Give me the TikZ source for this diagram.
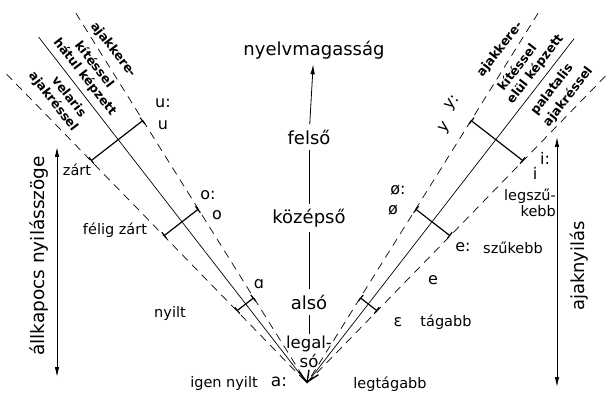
\documentclass[tikz,border=0pt]{standalone}
\usepackage{fontspec}
\setmainfont{DejaVu Sans}
\usetikzlibrary{calc,arrows.meta}
\begin{document}
\begin{tikzpicture}[x=1pt,y=1pt,
  txt/.style={inner sep=0pt, font=\fontsize{14.5}{16}\selectfont},
  snd/.style={inner sep=0pt, font=\fontsize{16}{18}\selectfont},
  big/.style={inner sep=5pt, font=\fontsize{18}{20}\selectfont},
  side/.style={inner sep=0pt, font=\bfseries\fontsize{12.5}{14}\selectfont},
  axisline/.style={line width=0.7pt},
  dashline/.style={line width=0.7pt, dash pattern=on 8pt off 6pt},
  crossbar/.style={line width=1.2pt, {Bar[width=8pt]}-{Bar[width=8pt]}},
  dblarrow/.style={line width=0.9pt, {Latex[length=10pt,width=4.5pt]}-{Latex[length=10pt,width=4.5pt]}},
  uparrow/.style={line width=0.8pt, -{Latex[length=10pt,width=4.5pt]}},
  plainline/.style={line width=0.8pt},
]
\useasboundingbox (0,0) rectangle (608,394);
\coordinate (V) at (307,11);

% the six rays of the fan
\coordinate (Lsol) at ($(V)+(127.8:438)$);
\coordinate (Lin)  at ($(V)+(122:436)$);
\coordinate (Lout) at ($(V)+(134.2:431)$);
\coordinate (Rsol) at ($(V)+(52.2:436)$);
\coordinate (Rin)  at ($(V)+(58:436)$);
\coordinate (Rout) at ($(V)+(45.8:428)$);
\draw[axisline] (V) -- (Lsol);
\draw[axisline] (V) -- (Rsol);
\draw[dashline] (Lin) -- (V);
\draw[dashline] (Lout) -- (V);
\draw[dashline] (Rin) -- (V);
\draw[dashline] (Rout) -- (V);

% cross bars between the dashed rays
\foreach \s/\n in {100/1,204/2,308/3}{
  \coordinate (Li\n) at ($(V)+(127.8:\s)+(37.8:{0.1016*\s})$);
  \coordinate (Lo\n) at ($(V)+(127.8:\s)+(217.8:{0.1122*\s})$);
  \coordinate (Ri\n) at ($(V)+(52.2:\s)+(142.2:{0.1016*\s})$);
  \coordinate (Ro\n) at ($(V)+(52.2:\s)+(-37.8:{0.1122*\s})$);
  \draw[crossbar] (Li\n) -- (Lo\n);
  \draw[crossbar] (Ri\n) -- (Ro\n);
}

% labels along the rays
\node[side, rotate=-52.2] (lk1) at ($(V)+(127.8:382)+(37.8:51)$) {ajakkere-};
\node[side, rotate=-52.2] (lk2) at ($(V)+(127.8:382)+(37.8:28)$) {kítéssel};
\node[side, rotate=-52.2] (lh)  at ($(V)+(127.8:378)+(37.8:12)$) {hátul képzett};
\node[side, rotate=-52.2] (lv)  at ($(V)+(127.8:372)+(37.8:-12)$) {velaris};
\node[side, rotate=-52.2] (la)  at ($(V)+(127.8:378)+(37.8:-28)$) {ajakréssel};
\node[side, rotate=52.2] (rk1) at ($(V)+(52.2:382)+(142.2:52)$) {ajakkere-};
\node[side, rotate=52.2] (rk2) at ($(V)+(52.2:378)+(142.2:28)$) {kítéssel};
\node[side, rotate=52.2] (re)  at ($(V)+(52.2:388)+(142.2:12)$) {elül képzett};
\node[side, rotate=52.2] (rp)  at ($(V)+(52.2:382)+(142.2:-14)$) {palatalis};
\node[side, rotate=52.2] (ra)  at ($(V)+(52.2:386)+(142.2:-31)$) {ajakréssel};

% tongue height scale in the middle
\node[big] (nyelv) at (314,344) {nyelvmagasság};
\node[big] (felso) at (309,257) {felső};
\node[big] (kozep) at (309,176) {középső};
\node[big] (also)  at (309,92) {alsó};
\node[big, inner sep=2pt, align=center, font=\fontsize{16.5}{18.5}\selectfont] (legalso) at (309,42) {legal-\\só};
\draw[uparrow] (felso) -- (nyelv);
\draw[plainline] (kozep) -- (felso);
\draw[plainline] (also) -- (kozep);
\draw[plainline] (legalso) -- (also);
\draw[line width=1.4pt, -{Straight Barb[length=9pt,width=20pt]}] (legalso.south) -- (V);

% vowel symbols and degree labels, back side
\node[snd] (uu) at (163,291) {u:};
\node[snd] (u)  at (163,269) {u};
\node[txt] (zart) at (77,224) {zárt};
\node[snd] (oo) at (208,199) {o:};
\node[snd] (o)  at (217,179) {o};
\node[txt] (felig) at (115,164) {félig zárt};
\node[snd] (aa) at (259,110) {ɑ};
\node[txt] (nyilt) at (170,81) {nyilt};
\node[txt] (igen) at (224,11) {igen nyilt};
\node[snd, font=\fontsize{17}{19}\selectfont] (along) at (279,12) {a:};

% vowel symbols and degree labels, front side
\node[snd, rotate=52.2] (yy) at (453,291) {y:};
\node[snd, rotate=52.2] (y)  at (445,266) {y};
\node[snd] (ii) at (545,236) {i:};
\node[snd] (i)  at (535,221) {i};
\node[txt, align=right] (legszu) at (530,191) {legszű-\\kebb};
\node[snd] (oe1) at (398,204) {ø:};
\node[snd] (oe)  at (393,184) {ø};
\node[snd] (ee) at (463,147) {e:};
\node[txt] (szukebb) at (513,146) {szűkebb};
\node[snd] (e) at (433,114) {e};
\node[snd] (eps) at (398,72) {ɛ};
\node[txt] (tagabb) at (446,72) {tágabb};
\node[txt] (legtag) at (390,10) {legtágabb};

% jaw and lip opening scales
\coordinate (jt) at (57,247);
\coordinate (jb) at (57,17);
\draw[dblarrow] (jt) -- (jb);
\node[font=\fontsize{18.5}{20}\selectfont, rotate=90] (jaw) at (39,138) {állkapocs nyilásszöge};
\coordinate (lt) at (557,257);
\coordinate (lb) at (557,7);
\draw[dblarrow] (lt) -- (lb);
\node[font=\fontsize{18}{20}\selectfont, rotate=90] (lip) at (579,128) {ajaknyilás};
\end{tikzpicture}
\end{document}
